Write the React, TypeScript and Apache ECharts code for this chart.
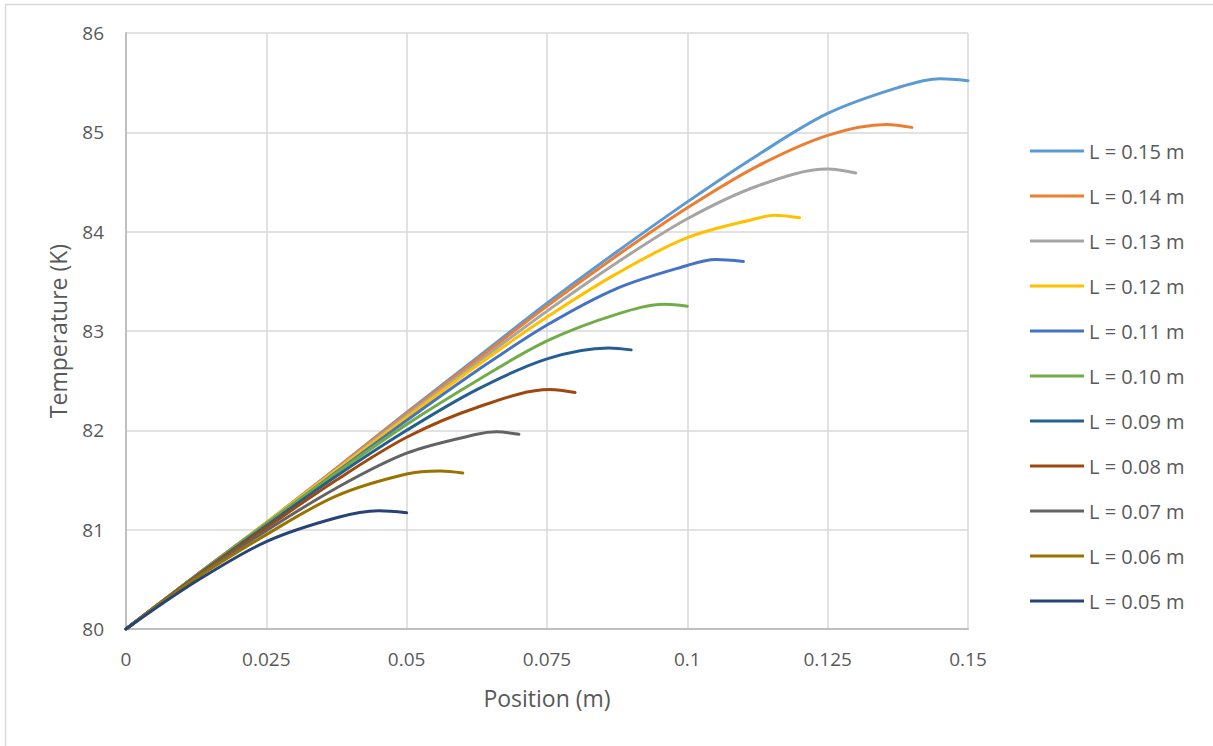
import React, { useEffect, useRef } from "react";
import * as echarts from "echarts";

// Position (m) and temperature (K), one pair of arrays per fin length
const X_005 = [0, 0.0125, 0.025, 0.0375, 0.045, 0.05];
const T_005 = [80, 80.48, 80.88, 81.12, 81.19, 81.17];

const X_006 = [0, 0.0125, 0.025, 0.0375, 0.05, 0.056, 0.06];
const T_006 = [80, 80.51, 80.95, 81.34, 81.56, 81.59, 81.57];

const X_007 = [0, 0.0125, 0.025, 0.0375, 0.05, 0.0625, 0.066, 0.07];
const T_007 = [80, 80.52, 80.99, 81.42, 81.77, 81.96, 81.985, 81.96];

const X_008 = [0, 0.0125, 0.025, 0.0375, 0.05, 0.0625, 0.0755, 0.08];
const T_008 = [80, 80.53, 81.02, 81.5, 81.93, 82.23, 82.41, 82.38];

const X_009 = [0, 0.0125, 0.025, 0.0375, 0.05, 0.0625, 0.075, 0.086, 0.09];
const T_009 = [80, 80.53, 81.04, 81.54, 82.0, 82.41, 82.72, 82.83, 82.81];

const X_010 = [0, 0.0125, 0.025, 0.0375, 0.05, 0.0625, 0.075, 0.0875, 0.096, 0.1];
const T_010 = [80, 80.54, 81.06, 81.57, 82.06, 82.5, 82.9, 83.17, 83.27, 83.25];

const X_011 = [0, 0.0125, 0.025, 0.0375, 0.05, 0.0625, 0.075, 0.0875, 0.1, 0.105, 0.11];
const T_011 = [80, 80.54, 81.06, 81.58, 82.1, 82.6, 83.06, 83.43, 83.66, 83.72, 83.7];

const X_012 = [0, 0.0125, 0.025, 0.0375, 0.05, 0.0625, 0.075, 0.0875, 0.1, 0.1125, 0.1155, 0.12];
const T_012 = [80, 80.54, 81.07, 81.6, 82.13, 82.65, 83.14, 83.58, 83.94, 84.135, 84.165, 84.14];

const X_013 = [0, 0.0125, 0.025, 0.0375, 0.05, 0.0625, 0.075, 0.0875, 0.1, 0.1125, 0.125, 0.13];
const T_013 = [80, 80.54, 81.07, 81.61, 82.15, 82.68, 83.2, 83.69, 84.13, 84.46, 84.63, 84.59];

const X_014 = [0, 0.0125, 0.025, 0.0375, 0.05, 0.0625, 0.075, 0.0875, 0.1, 0.1125, 0.125, 0.1355, 0.14];
const T_014 = [80, 80.54, 81.07, 81.62, 82.17, 82.71, 83.25, 83.76, 84.24, 84.66, 84.97, 85.08, 85.05];

const X_015 = [0, 0.0125, 0.025, 0.0375, 0.05, 0.0625, 0.075, 0.0875, 0.1, 0.1125, 0.125, 0.1375, 0.145, 0.15];
const T_015 = [80, 80.54, 81.07, 81.62, 82.18, 82.73, 83.28, 83.8, 84.3, 84.77, 85.19, 85.45, 85.54, 85.52];

const SERIES_NAMES = [
  "L = 0.15 m", "L = 0.14 m", "L = 0.13 m", "L = 0.12 m", "L = 0.11 m", "L = 0.10 m",
  "L = 0.09 m", "L = 0.08 m", "L = 0.07 m", "L = 0.06 m", "L = 0.05 m",
];
const SERIES_X = [X_015, X_014, X_013, X_012, X_011, X_010, X_009, X_008, X_007, X_006, X_005];
const SERIES_T = [T_015, T_014, T_013, T_012, T_011, T_010, T_009, T_008, T_007, T_006, T_005];
const COLORS = [
  "#5b9bd5", "#ed7d31", "#a5a5a5", "#ffc000", "#4472c4", "#70ad47",
  "#255e91", "#9e480e", "#636363", "#997300", "#264478",
];

const X_TICKS = [0, 0.025, 0.05, 0.075, 0.1, 0.125, 0.15];

export default function App() {
  const ref = useRef<HTMLDivElement>(null);

  useEffect(() => {
    if (!ref.current) return;
    const chart = echarts.init(ref.current, null, { renderer: "svg" });
    const font = "'Open Sans', sans-serif";
    const textColor = "#595959";

    chart.setOption({
      animation: false,
      backgroundColor: "#ffffff",
      textStyle: { fontFamily: font },
      graphic: [
        {
          type: "rect",
          shape: { x: 5.5, y: 4.5, width: 1400, height: 900 },
          style: { fill: "none", stroke: "#d9d9d9", lineWidth: 1.5 },
          silent: true,
          z: -10,
        },
      ],
      grid: { left: 126, right: 245, top: 33, bottom: 117, containLabel: false },
      legend: {
        orient: "vertical",
        left: 1030,
        top: 141,
        padding: 0,
        icon: "rect",
        itemWidth: 54,
        itemHeight: 3,
        itemGap: 25,
        data: SERIES_NAMES,
        textStyle: { color: textColor, fontSize: 20, fontFamily: font, lineHeight: 20, padding: [0, 0, 0, 0] },
      },
      xAxis: {
        type: "value",
        min: 0,
        max: 0.15,
        interval: 0.025,
        name: "Position (m)",
        nameLocation: "middle",
        nameGap: 57,
        nameTextStyle: { color: textColor, fontSize: 23, fontFamily: font },
        axisLine: { show: true, onZero: false, lineStyle: { color: "#bfbfbf", width: 2 } },
        axisTick: { show: false },
        axisLabel: {
          color: textColor,
          fontSize: 19,
          fontFamily: font,
          margin: 20,
          formatter: (v: number) => {
            const t = X_TICKS.find((k) => Math.abs(k - v) < 1e-9);
            return String(t !== undefined ? t : +v.toFixed(3));
          },
        },
        splitLine: { show: true, lineStyle: { color: "#d9d9d9", width: 1.5 } },
      },
      yAxis: {
        type: "value",
        min: 80,
        max: 86,
        interval: 1,
        name: "Temperature (K)",
        nameLocation: "middle",
        nameGap: 57,
        nameTextStyle: { color: textColor, fontSize: 23, fontFamily: font },
        axisLine: { show: true, lineStyle: { color: "#bfbfbf", width: 2 } },
        axisTick: { show: false },
        axisLabel: { color: textColor, fontSize: 19, fontFamily: font, margin: 22 },
        splitLine: { show: true, lineStyle: { color: "#d9d9d9", width: 1.5 } },
      },
      series: SERIES_NAMES.map((name, i) => ({
        name,
        type: "line",
        smooth: 0.33,
        showSymbol: false,
        symbol: "none",
        color: COLORS[i],
        lineStyle: { color: COLORS[i], width: 3, cap: "round", join: "round" },
        data: SERIES_X[i].map((x, j) => [x, SERIES_T[i][j]]),
      })),
    });

    return () => chart.dispose();
  }, []);

  return (
    <div
      ref={ref}
      style={{ position: "fixed", left: 0, top: 0, width: 1213, height: 746, background: "#fff" }}
    />
  );
}
